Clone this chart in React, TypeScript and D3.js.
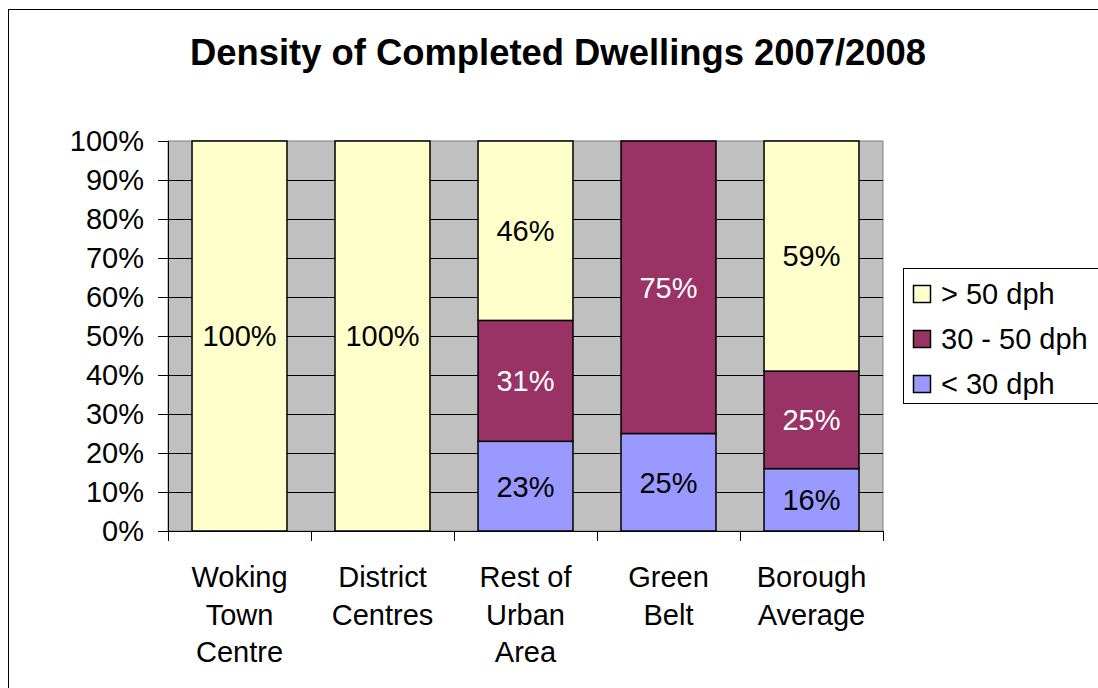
import * as d3 from "d3"

// chart data
const categories = ["Woking Town Centre", "District Centres", "Rest of Urban Area", "Green Belt", "Borough Average"]
const categoryLines = [["Woking", "Town", "Centre"], ["District", "Centres"], ["Rest of", "Urban", "Area"], ["Green", "Belt"], ["Borough", "Average"]]
const under30 = [0, 0, 23, 25, 16]
const mid30to50 = [0, 0, 31, 75, 25]
const over50 = [100, 100, 46, 0, 59]
const seriesNames = ["< 30 dph", "30 - 50 dph", "> 50 dph"]
const yTicks = [0, 10, 20, 30, 40, 50, 60, 70, 80, 90, 100]

const colors = ["#9999FF", "#993366", "#FFFFCC"]
const labelColors = ["#000", "#fff", "#000"]
const font = "'Liberation Sans', Arial, sans-serif"
const fs = 29

export default function App() {
  const W = 1098
  const H = 688
  const plot = { left: 168, right: 883, top: 141, bottom: 531 }

  const rows = categories.map((c, i) => ({ cat: c, s0: under30[i], s1: mid30to50[i], s2: over50[i] }))
  const stacked = d3.stack<any>().keys(["s0", "s1", "s2"])(rows)

  const x = d3.scaleBand<string>()
    .domain(categories)
    .range([plot.left, plot.right])
    .paddingInner(0.336)
    .paddingOuter(0.168)
  const y = d3.scaleLinear().domain([0, 100]).range([plot.bottom, plot.top])

  const step = x.step()

  return (
    <svg width={W} height={H} style={{ position: "absolute", left: 0, top: 0, background: "#fff" }} fontFamily={font}>
      {/* outer chart border, clipped at right/bottom */}
      <rect x={8.5} y={9.5} width={1200} height={800} fill="#fff" stroke="#000" strokeWidth={1} />

      <text x={558} y={65} textAnchor="middle" fontSize={36.4} fontWeight="bold">
        Density of Completed Dwellings 2007/2008
      </text>

      {/* plot area */}
      <rect x={plot.left} y={plot.top} width={plot.right - plot.left} height={plot.bottom - plot.top} fill="#C0C0C0" stroke="#808080" strokeWidth={1} />
      {yTicks.filter(t => t > 0 && t < 100).map(t => (
        <line key={t} x1={plot.left} x2={plot.right} y1={Math.round(y(t)) + 0.5} y2={Math.round(y(t)) + 0.5} stroke="#000" strokeWidth={1} />
      ))}

      {/* bars */}
      {stacked.map((layer, si) => (
        <g key={si}>
          {layer.map((d, i) => {
            const h = y(d[0]) - y(d[1])
            if (h <= 0) return null
            return (
              <rect key={i} x={x(categories[i])!} y={y(d[1])} width={x.bandwidth()} height={h}
                fill={colors[si]} stroke="#000" strokeWidth={1.5} />
            )
          })}
        </g>
      ))}

      {/* data labels */}
      {stacked.map((layer, si) => (
        <g key={"l" + si}>
          {layer.map((d, i) => {
            const v = d[1] - d[0]
            if (v <= 0) return null
            return (
              <text key={i} x={x(categories[i])! + x.bandwidth() / 2} y={y((d[0] + d[1]) / 2)} dy="0.36em"
                textAnchor="middle" fontSize={fs} fill={labelColors[si]}>
                {v}%
              </text>
            )
          })}
        </g>
      ))}

      {/* y axis */}
      <line x1={plot.left + 0.5} x2={plot.left + 0.5} y1={plot.top} y2={plot.bottom} stroke="#000" strokeWidth={1} />
      {yTicks.map(t => (
        <g key={t}>
          <line x1={plot.left - 10} x2={plot.left} y1={Math.round(y(t)) + 0.5} y2={Math.round(y(t)) + 0.5} stroke="#000" strokeWidth={1} />
          <text x={144} y={y(t)} dy="0.36em" textAnchor="end" fontSize={fs}>{t}%</text>
        </g>
      ))}

      {/* x axis */}
      <line x1={plot.left} x2={plot.right} y1={plot.bottom + 0.5} y2={plot.bottom + 0.5} stroke="#000" strokeWidth={1} />
      {d3.range(categories.length + 1).map(i => (
        <line key={i} x1={Math.round(plot.left + i * step) + 0.5} x2={Math.round(plot.left + i * step) + 0.5}
          y1={plot.bottom} y2={plot.bottom + 10} stroke="#000" strokeWidth={1} />
      ))}
      {categories.map((c, i) => (
        <text key={c} x={x(c)! + x.bandwidth() / 2} y={587} textAnchor="middle" fontSize={fs}>
          {categoryLines[i].map((ln, j) => (
            <tspan key={j} x={x(c)! + x.bandwidth() / 2} dy={j === 0 ? 0 : 37.5}>{ln}</tspan>
          ))}
        </text>
      ))}

      {/* legend */}
      <rect x={903.5} y={268.5} width={300} height={135} fill="#fff" stroke="#000" strokeWidth={1} />
      {[2, 1, 0].map((si, k) => (
        <g key={si} transform={`translate(913, ${294 + k * 45})`}>
          <rect x={0.5} y={-8.5} width={17} height={17} fill={colors[si]} stroke="#000" strokeWidth={1.5} />
          <text x={28} y={0} dy="0.36em" fontSize={fs}>{seriesNames[si]}</text>
        </g>
      ))}
    </svg>
  )
}
